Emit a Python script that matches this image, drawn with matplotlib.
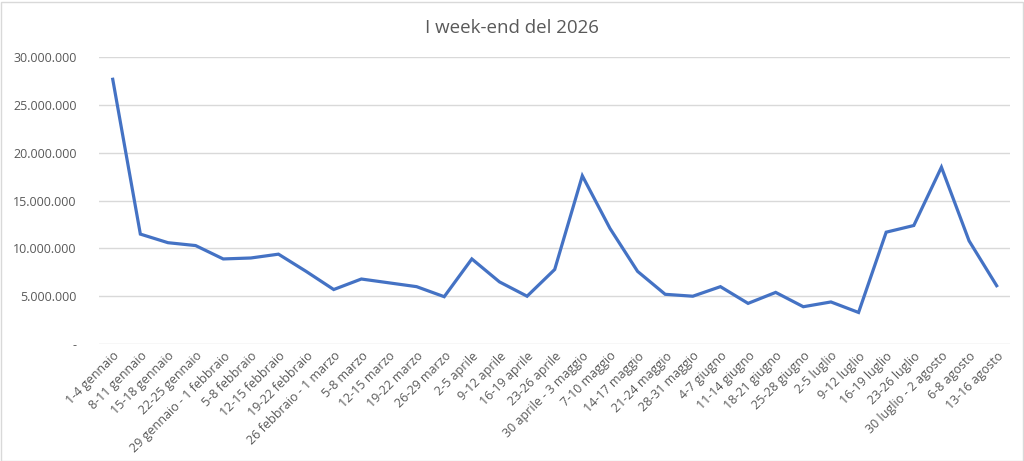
import matplotlib
import matplotlib.pyplot as plt
from matplotlib.patches import Rectangle
from matplotlib.ticker import FuncFormatter

matplotlib.use('Agg')

weekends = [
    "1-4 gennaio", "8-11 gennaio", "15-18 gennaio", "22-25 gennaio",
    "29 gennaio - 1 febbraio", "5-8 febbraio", "12-15 febbraio", "19-22 febbraio",
    "26 febbraio - 1 marzo", "5-8 marzo", "12-15 marzo", "19-22 marzo",
    "26-29 marzo", "2-5 aprile", "9-12 aprile", "16-19 aprile", "23-26 aprile",
    "30 aprile - 3 maggio", "7-10 maggio", "14-17 maggio", "21-24 maggio",
    "28-31 maggio", "4-7 giugno", "11-14 giugno", "18-21 giugno", "25-28 giugno",
    "2-5 luglio", "9-12 luglio", "16-19 luglio", "23-26 luglio",
    "30 luglio - 2 agosto", "6-8 agosto", "13-16 agosto",
]
values = [
    27.7, 11.5, 10.6, 10.3, 8.9, 9.0, 9.4, 7.6, 5.7, 6.8, 6.4, 6.0, 4.95,
    8.9, 6.5, 5.0, 7.8, 17.6, 12.1, 7.6, 5.2, 5.0, 6.0, 4.25, 5.4, 3.9,
    4.4, 3.3, 11.7, 12.4, 18.5, 10.8, 6.1,
]
values = [v * 1e6 for v in values]
y_ticks = [0, 5e6, 10e6, 15e6, 20e6, 25e6, 30e6]

text_grey = '#595959'
plt.rcParams['font.family'] = ['Open Sans', 'DejaVu Sans']


def fmt_it(v, pos):
    if v == 0:
        return '-'
    return f"{int(v):,}".replace(',', '.')


fig = plt.figure(figsize=(10.24, 4.61), dpi=100)
ax = fig.add_axes([0.0966, 0.2538, 0.8902, 0.6219])

x = list(range(len(weekends)))
ax.plot(x, values, color='#4472C4', linewidth=2.3, solid_joinstyle='miter', zorder=3)

ax.set_xlim(-0.5, len(weekends) - 0.5)
ax.set_ylim(0, 30e6)
ax.set_yticks(y_ticks)
ax.yaxis.set_major_formatter(FuncFormatter(fmt_it))
ax.set_xticks(x)
ax.set_xticklabels(weekends, rotation=45, ha='right', rotation_mode='anchor')

ax.grid(axis='y', color='#D9D9D9', linewidth=1.0)
ax.set_axisbelow(True)
for s in ax.spines.values():
    s.set_visible(False)
ax.tick_params(axis='both', length=0, labelsize=9, colors=text_grey)
ax.tick_params(axis='y', pad=16)
ax.tick_params(axis='x', pad=4)

fig.text(0.5, 0.94, "I week-end del 2026", ha='center', va='center',
         fontsize=13.5, color=text_grey)

fig.patches.append(Rectangle((0.001, 0.0), 0.998, 0.995, transform=fig.transFigure,
                             fill=False, edgecolor='#D9D9D9', linewidth=1.0))

fig.savefig('out.png', dpi=100)
